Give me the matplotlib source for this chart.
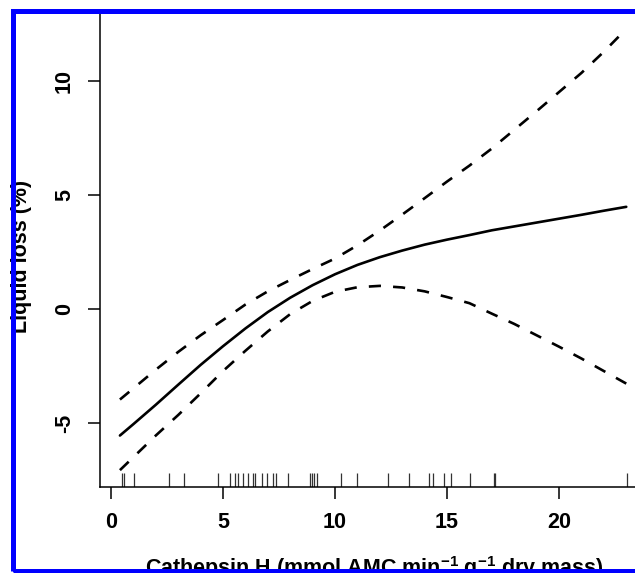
import numpy as np
import matplotlib.pyplot as plt
from matplotlib.patches import Rectangle

# Fitted smooth (solid) and its confidence band (dashed)
x_fit = [0.4, 1, 2, 3, 4, 5, 6, 7, 8, 9, 10, 11, 12,
         13, 14, 15, 16, 17, 18, 19, 20, 21, 22, 23]
y_fit = [-5.55, -5.05, -4.2, -3.32, -2.45, -1.63, -0.85, -0.13, 0.5, 1.05, 1.53, 1.94, 2.28,
         2.57, 2.83, 3.05, 3.25, 3.46, 3.63, 3.8, 3.97, 4.14, 4.32, 4.49]
y_upper = [-3.97, -3.48, -2.66, -1.88, -1.15, -0.48, 0.2, 0.78, 1.28, 1.76, 2.22, 2.8, 3.45,
           4.15, 4.87, 5.6, 6.3, 7.05, 7.87, 8.69, 9.53, 10.37, 11.3, 12.3]
y_lower = [-7.07, -6.5, -5.55, -4.65, -3.7, -2.72, -1.83, -0.98, -0.22, 0.36, 0.76, 0.96, 1.02,
           0.95, 0.78, 0.53, 0.26, -0.2, -0.65, -1.15, -1.65, -2.17, -2.72, -3.27]

# observed cathepsin H values (rug)
rug_x = [0.51, 0.58, 1.04, 2.60, 3.26, 4.79, 5.30, 5.55, 5.69, 5.91, 6.10, 6.34, 6.43,
         6.76, 6.98, 7.23, 7.35, 7.89, 8.88, 8.97, 9.08, 9.18, 10.25, 10.96, 12.38,
         13.32, 14.21, 14.39, 14.87, 15.17, 16.03, 17.10, 17.14, 23.02]

x_ticks = [0, 5, 10, 15, 20]
y_ticks = [-5, 0, 5, 10]

plt.rcParams['font.family'] = ['Liberation Sans', 'DejaVu Sans']
plt.rcParams['font.weight'] = 'bold'
plt.rcParams['axes.unicode_minus'] = False
plt.rcParams['mathtext.fontset'] = 'custom'
plt.rcParams['mathtext.bf'] = 'Liberation Sans:bold'
plt.rcParams['mathtext.rm'] = 'Liberation Sans:bold'

W, H = 635, 573
fig = plt.figure(figsize=(W / 100, H / 100), dpi=100)
ax = fig.add_axes([100 / W, 1 - 487 / H, 535 / W, 474 / H])

ax.plot(x_fit, y_fit, color='black', lw=1.9, solid_capstyle='round')
ax.plot(x_fit, y_upper, color='black', lw=1.9, linestyle=(0, (4.6, 4.6)))
ax.plot(x_fit, y_lower, color='black', lw=1.9, linestyle=(0, (4.6, 4.6)))
ax.vlines(rug_x, 0, 14 / 474, transform=ax.get_xaxis_transform(), color='#333333', lw=0.9)

ax.set_xlim(-0.49, 23.39)
ax.set_ylim(-7.81, 13.0)
ax.set_xticks(x_ticks)
ax.set_yticks(y_ticks)
for s in ['top', 'right']:
    ax.spines[s].set_visible(False)
for s in ['left', 'bottom']:
    ax.spines[s].set_linewidth(1.1)
ax.tick_params(length=8.6, width=1.1, labelsize=15.5, pad=9.5)
plt.setp(ax.get_yticklabels(), rotation=90, va='center')

ax.set_xlabel('Cathepsin H (mmol AMC min$^{\\mathbf{-1}}$ g$^{\\mathbf{-1}}$ dry mass)',
              fontsize=15.5, fontweight='bold', labelpad=15)
ax.set_ylabel('Liquid loss (%)', fontsize=15.5, fontweight='bold', labelpad=16)
ax.xaxis.label.set_x(0.512)
ax.yaxis.label.set_y(0.486)

# blue frame around the figure (cut off on the right)
fig.add_artist(Rectangle((12.5 / W, 2.5 / H), 700 / W, 560 / H, transform=fig.transFigure,
                         fill=False, edgecolor='#0000ff', lw=3.6, zorder=10))

fig.savefig('out.png', dpi=100)
